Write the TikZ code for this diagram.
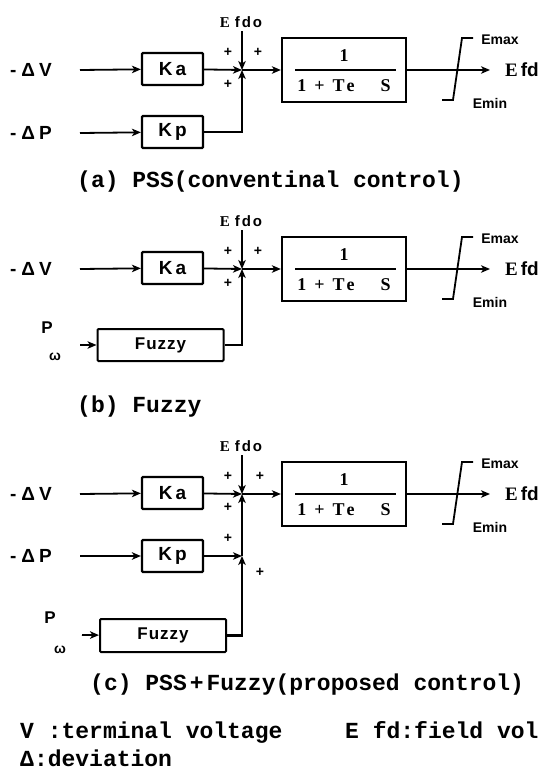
\documentclass[tikz,border=0pt]{standalone}
\usepackage{fontspec}
\setmainfont{Liberation Serif}
\newfontfamily\sfb{Liberation Sans}
\newfontfamily\serb{Liberation Serif}
\newfontfamily\monof{Liberation Mono}
\usetikzlibrary{arrows.meta}
\begin{document}
\begin{tikzpicture}[x=1pt,y=-1pt,
  blk/.style={draw, line width=2.2pt, rounded corners=1pt, inner sep=0pt, minimum width=61pt, minimum height=32pt, font=\sfb\bfseries\fontsize{19}{19}\selectfont},
  fzbox/.style={draw, line width=2pt, rounded corners=1pt, inner sep=0pt, minimum width=126pt, font=\sfb\bfseries\fontsize{17}{17}\selectfont},
  tfbox/.style={draw, line width=2.3pt, inner sep=0pt, minimum width=124pt, minimum height=64pt},
  tft/.style={inner sep=0pt, font=\serb\bfseries\fontsize{18}{18}\selectfont},
  sig/.style={line width=1.8pt, -{Stealth[length=9pt,width=7.5pt,inset=2.5pt]}},
  fb/.style={sig, line width=2.6pt},
  lim/.style={line width=1.8pt},
  lbl/.style={inner sep=0pt, font=\sfb\bfseries\fontsize{19}{19}\selectfont},
  smalltxt/.style={inner sep=0pt, font=\sfb\bfseries\fontsize{14}{14}\selectfont},
  eftxt/.style={inner sep=0pt, font=\sfb\bfseries\fontsize{15}{15}\selectfont},
  outtxt/.style={inner sep=0pt, font=\serb\bfseries\fontsize{19}{19}\selectfont},
  pls/.style={inner sep=0pt, font=\sfb\bfseries\fontsize{14}{14}\selectfont},
  captxt/.style={inner sep=0pt, anchor=base west, font=\monof\bfseries\fontsize{23}{23}\selectfont},
]
\fill[white] (0,0) rectangle (541,780);
\useasboundingbox (0,0) rectangle (541,780);

% ---------- (a) ----------
\node[lbl] (dv1) at (31,70) {-\hspace{5pt}Δ\hspace{4pt}V};
\coordinate (dvs1) at (80,70);
\node[blk] (ka1) at (172.5,69) {K\hspace{3pt}a};
\node[lbl] (dp1) at (31,133) {-\hspace{5pt}Δ\hspace{4pt}P};
\coordinate (dps1) at (80,133);
\node[blk] (kp1) at (172.5,132) {K\hspace{3pt}p};
\coordinate (j1) at (242,70);
\node[eftxt] (ef1) at (241,22) {{\serb E}\hspace{5pt}f\hspace{2pt}d\hspace{2pt}o};
\coordinate (et1) at (242,31);
\node[tfbox] (tf1) at (344,70) {};
\node[tft] (n1) at (344,56) {1};
\node[tft] (d1) at (344,86) {1\hspace{8pt}+\hspace{8pt}T\hspace{2pt}e\hspace{26pt}S};
\draw[line width=1.6pt] (295,70) -- (396,70);
\coordinate (o1) at (490,70);
\node[outtxt] (efd1) at (522,70) {E\hspace{3pt}{\sfb fd}};
\draw[lim] (442,100) -- (453,100) -- (462,38) -- (473,38);
\node[smalltxt] (emx1) at (500,40) {Emax};
\node[smalltxt] (emn1) at (490,103) {Emin};
\node[pls] (pa1) at (228,52) {+};
\node[pls] (pb1) at (258,52) {+};
\node[pls] (pc1) at (228,84) {+};
\draw[sig] (dvs1) -- (ka1);
\draw[sig] (dps1) -- (kp1);
\draw[sig] (ka1) -- (j1);
\draw[fb] (et1) -- (j1);
\draw[fb] (kp1.east) -| (j1);
\draw[sig] (j1) -- (tf1);
\draw[sig] (tf1) -- (o1);
\node[captxt] (ca) at (77,187) {(a) PSS(conventinal control)};

% ---------- (b) ----------
\node[lbl] (dv2) at (31,269) {-\hspace{5pt}Δ\hspace{4pt}V};
\coordinate (dvs2) at (80,269);
\node[blk] (ka2) at (172.5,268) {K\hspace{3pt}a};
\coordinate (j2) at (242,269);
\node[eftxt] (ef2) at (241,221) {{\serb E}\hspace{5pt}f\hspace{2pt}d\hspace{2pt}o};
\coordinate (et2) at (242,230);
\node[tfbox] (tf2) at (344,269) {};
\node[tft] (n2) at (344,255) {1};
\node[tft] (d2) at (344,285) {1\hspace{8pt}+\hspace{8pt}T\hspace{2pt}e\hspace{26pt}S};
\draw[line width=1.6pt] (295,269) -- (396,269);
\coordinate (o2) at (490,269);
\node[outtxt] (efd2) at (522,269) {E\hspace{3pt}{\sfb fd}};
\draw[lim] (442,299) -- (453,299) -- (462,237) -- (473,237);
\node[smalltxt] (emx2) at (500,239) {Emax};
\node[smalltxt] (emn2) at (490,302) {Emin};
\node[pls] (pa2) at (228,251) {+};
\node[pls] (pb2) at (258,251) {+};
\node[pls] (pc2) at (228,283) {+};
\node[lbl, font=\sfb\bfseries\fontsize{17}{17}\selectfont] (pw2) at (47,328) {P};
\node[lbl, font=\sfb\bfseries\fontsize{14}{14}\selectfont] (om2) at (55,357) {ω};
\coordinate (fzs2) at (80,345);
\node[fzbox, minimum height=32pt] (fz2) at (160.5,345) {F\hspace{1pt}u\hspace{1pt}z\hspace{1pt}z\hspace{1pt}y};
\draw[sig] (dvs2) -- (ka2);
\draw[sig] (ka2) -- (j2);
\draw[fb] (et2) -- (j2);
\draw[sig] (fzs2) -- (fz2);
\draw[fb] (fz2.east) -| (j2);
\draw[sig] (j2) -- (tf2);
\draw[sig] (tf2) -- (o2);
\node[captxt] (cb) at (77,412) {(b) Fuzzy};

% ---------- (c) ----------
\node[lbl] (dv3) at (31,494) {-\hspace{5pt}Δ\hspace{4pt}V};
\coordinate (dvs3) at (80,494);
\node[blk] (ka3) at (172.5,493) {K\hspace{3pt}a};
\node[lbl] (dp3) at (31,556) {-\hspace{5pt}Δ\hspace{4pt}P};
\coordinate (dps3) at (80,556);
\node[blk] (kp3) at (172.5,556) {K\hspace{3pt}p};
\coordinate (j3) at (242,494);
\coordinate (j3b) at (242,556);
\node[eftxt] (ef3) at (241,446) {{\serb E}\hspace{5pt}f\hspace{2pt}d\hspace{2pt}o};
\coordinate (et3) at (242,455);
\node[tfbox] (tf3) at (344,494) {};
\node[tft] (n3) at (344,480) {1};
\node[tft] (d3) at (344,510) {1\hspace{8pt}+\hspace{8pt}T\hspace{2pt}e\hspace{26pt}S};
\draw[line width=1.6pt] (295,494) -- (396,494);
\coordinate (o3) at (490,494);
\node[outtxt] (efd3) at (522,494) {E\hspace{3pt}{\sfb fd}};
\draw[lim] (442,524) -- (453,524) -- (462,462) -- (473,462);
\node[smalltxt] (emx3) at (500,464) {Emax};
\node[smalltxt] (emn3) at (490,527) {Emin};
\node[pls] (pa3) at (228,476) {+};
\node[pls] (pb3) at (260,476) {+};
\node[pls] (pc3) at (228,507) {+};
\node[pls] (pd3) at (228,538) {+};
\node[pls] (pe3) at (260,572) {+};
\node[lbl, font=\sfb\bfseries\fontsize{17}{17}\selectfont] (pw3) at (50,618) {P};
\node[lbl, font=\sfb\bfseries\fontsize{14}{14}\selectfont] (om3) at (60,650) {ω};
\coordinate (fzs3) at (82,635);
\node[fzbox, minimum height=33pt] (fz3) at (163,635.5) {F\hspace{1pt}u\hspace{1pt}z\hspace{1pt}z\hspace{1pt}y};
\draw[sig] (dvs3) -- (ka3);
\draw[sig] (dps3) -- (kp3);
\draw[sig] (ka3) -- (j3);
\draw[fb] (et3) -- (j3);
\draw[sig] (kp3) -- (j3b);
\draw[fb] (fz3.east) -| (j3b);
\draw[fb] (j3b) -- (j3);
\draw[sig] (fzs3) -- (fz3);
\draw[sig] (j3) -- (tf3);
\draw[sig] (tf3) -- (o3);
\node[captxt] (cc) at (90,690) {(c) PSS\hspace{3pt}+\hspace{3pt}Fuzzy(proposed control)};

% ---------- legend ----------
\node[captxt] (lg1) at (20,738) {V :terminal voltage};
\node[captxt] (lg2) at (345,738) {E fd:field vol};
\node[captxt] (lg3) at (20,766) {Δ:deviation};
\end{tikzpicture}
\end{document}
